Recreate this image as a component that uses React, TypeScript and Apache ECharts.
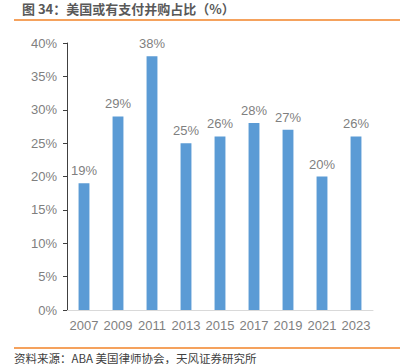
import React, { useEffect, useRef } from "react";
import * as echarts from "echarts";

const years = ["2007", "2009", "2011", "2013", "2015", "2017", "2019", "2021", "2023"];
const shares = [19, 29, 38, 25, 26, 28, 27, 20, 26];
const titleText = "图 34：美国或有支付并购占比（%）";
const sourceText = "资料来源：ABA 美国律师协会，天风证券研究所";

export default function App() {
  const ref = useRef<HTMLDivElement>(null);
  useEffect(() => {
    if (!ref.current) return;
    const chart = echarts.init(ref.current, null, { renderer: "svg" });
    const font = "'Liberation Sans', Arial, sans-serif";
    chart.setOption({
      animation: false,
      title: [
        {
          text: titleText,
          left: 22,
          top: 2,
          padding: 0,
          textStyle: {
            color: "#595959",
            fontSize: 13,
            fontWeight: "bold",
            fontFamily: "'Noto Sans CJK SC', sans-serif",
          },
        },
        {
          text: sourceText,
          left: 14,
          top: 351,
          padding: 0,
          textStyle: {
            color: "#404040",
            fontSize: 11.5,
            lineHeight: 13,
            fontWeight: "normal",
            fontFamily: "'Noto Sans CJK SC', sans-serif",
          },
        },
      ],
      grid: { left: 67, right: 33, top: 43, bottom: 54 },
      xAxis: {
        type: "category",
        data: years,
        axisLine: { show: true, lineStyle: { color: "#d9d9d9", width: 1 } },
        axisTick: { show: false },
        axisLabel: { interval: 0, color: "#7f7f7f", fontSize: 13, fontFamily: font, margin: 9 },
      },
      yAxis: {
        type: "value",
        min: 0,
        max: 40,
        interval: 5,
        splitLine: { show: false },
        axisLine: { show: true, lineStyle: { color: "#404040", width: 1 } },
        axisTick: { show: true, length: 4, lineStyle: { color: "#404040" } },
        axisLabel: {
          color: "#7f7f7f",
          fontSize: 13,
          fontFamily: font,
          margin: 10,
          formatter: (v: number) => v + "%",
        },
      },
      series: [
        {
          type: "bar",
          data: shares,
          barWidth: "32%",
          itemStyle: { color: "#5b9bd5" },
          label: {
            show: true,
            position: "top",
            distance: 6,
            color: "#7f7f7f",
            fontSize: 13,
            fontFamily: font,
            formatter: (p: any) => p.value + "%",
          },
        },
      ],
      graphic: {
        elements: [
          {
            type: "line",
            z: 100,
            shape: { x1: 14, y1: 20, x2: 400, y2: 20 },
            style: { stroke: "#f5a25d", lineWidth: 2, fill: null },
          },
          {
            type: "line",
            z: 100,
            shape: { x1: 14, y1: 348, x2: 400, y2: 348 },
            style: { stroke: "#f5a25d", lineWidth: 2, fill: null },
          },
        ],
      },
    });
    return () => chart.dispose();
  }, []);
  return <div ref={ref} style={{ width: 406, height: 364, position: "absolute", left: 0, top: 0 }} />;
}
